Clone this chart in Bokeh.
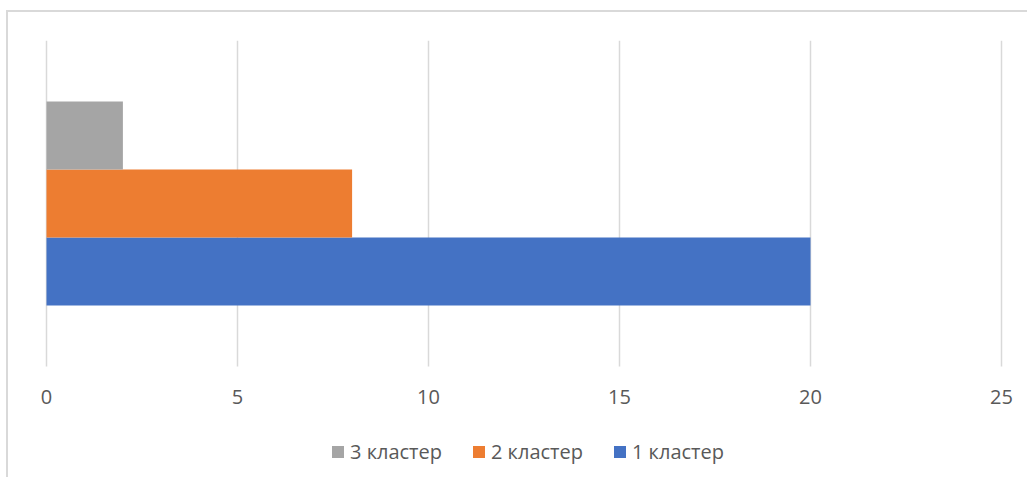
from bokeh.plotting import figure
from bokeh.models import Range1d, Legend, LegendItem
from bokeh.core.properties import value
from bokeh.embed import file_html
from bokeh.resources import INLINE

# Data
series = ["1 кластер", "2 кластер", "3 кластер"]
values = [20, 8, 2]
colors = ["#4472C4", "#ED7D31", "#A5A5A5"]
x_ticks = [0, 5, 10, 15, 20, 25]
x_tick_labels = ["0", "5", "10", "15", "20", "25"]
legend_order = ["3 кластер", "2 кластер", "1 кластер"]

FONT = "Open Sans"
TXT = "#595959"
GRID = "#d9d9d9"

# layout (vertical positions in frame pixels, measured from frame bottom)
BAND_CENTER = 274
BAR_H = 68
GRID_BOTTOM, GRID_TOP = 111, 437
LABEL_Y = 81
PX_PER_UNIT = 38.2
X_START = -26 / PX_PER_UNIT
X_END = 25 + 19 / PX_PER_UNIT

p = figure(frame_width=1000, frame_height=437, output_backend="svg", toolbar_location=None,
           x_range=Range1d(X_START, X_END), y_range=Range1d(0, 437),
           min_border_left=20, min_border_right=7, min_border_top=40, min_border_bottom=0,
           styles={"background": "linear-gradient(#d9d9d9,#d9d9d9) 6px 10px / 2px 100% no-repeat, "
                                 "linear-gradient(#d9d9d9,#d9d9d9) 6px 10px / 100% 2px no-repeat, white"})
p.outline_line_color = None
p.background_fill_color = "white"
p.border_fill_alpha = 0
p.xaxis.visible = False
p.yaxis.visible = False
p.xgrid.visible = False
p.ygrid.visible = False

# vertical gridlines at tick values
p.segment(x0=x_ticks, x1=x_ticks, y0=GRID_BOTTOM, y1=GRID_TOP, line_color=GRID, line_width=1.5)

renderers = {}
for i, (s, v, c) in enumerate(zip(series, values, colors)):
    yc = BAND_CENTER + (i - 1) * BAR_H
    r = p.hbar(y=[yc], right=[v], left=0, height=BAR_H, color=c, line_color=None)
    renderers[s] = r

# x tick labels
p.text(x=x_ticks, y=[LABEL_Y] * len(x_ticks), text=x_tick_labels,
       text_font=value(FONT), text_font_size="20px", text_color=TXT,
       text_align="center", text_baseline="middle")

items = [LegendItem(label=s, renderers=[renderers[s]]) for s in legend_order]
legend = Legend(items=items, orientation="horizontal", location=(310, 12),
                label_text_font=FONT, label_text_font_size="20px", label_text_color=TXT,
                glyph_width=15, glyph_height=15, label_standoff=5, spacing=29,
                padding=0, margin=0, border_line_color=None, background_fill_alpha=0)
p.add_layout(legend, "center")

open("out.html", "w").write(file_html(p, INLINE))
